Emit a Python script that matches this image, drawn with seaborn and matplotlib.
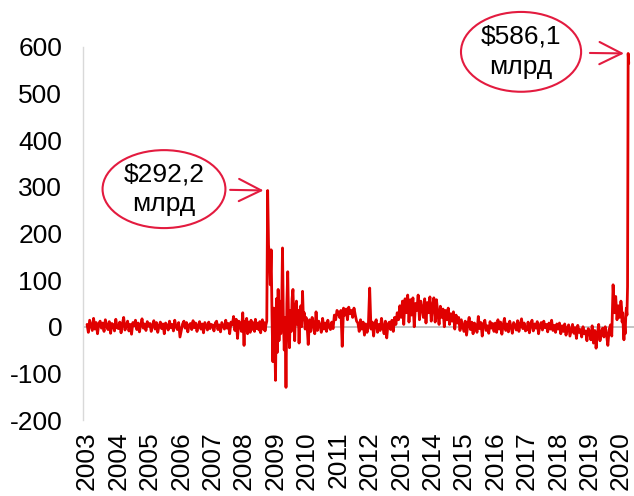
import pandas as pd
import matplotlib.pyplot as plt
from matplotlib.patches import Ellipse
import seaborn as sns

# Weekly change of the balance sheet, $ bn.
# Most years are sampled twice a month, 2008-2009 about every 10 days, 2020 weekly.
y2003 = [5, -12, 14, 3, -8, 18, -5, 9, -15, 6, 12, -3, 8, -10, 15, 2, -6, 11, -14, 7, 4, -9, 16, -2]
y2004 = [-4, 10, -13, 6, 20, -7, 3, 12, -9, 5, -16, 9, 2, 14, -6, 8, -11, 4, 17, -3, 6, -8, 11, 1]
y2005 = [7, -10, 4, 13, -5, 9, -12, 2, 10, -4, 6, -15, 8, 3, -7, 12, -2, 5, -9, 14, 0, -6, 9, -22]
y2006 = [-8, 6, 12, -3, 9, -11, 4, 7, -6, 13, -2, 8, -10, 3, 11, -5, 6, -13, 9, 2, -7, 10, -4, 5]
y2007 = [3, -9, 8, 12, -6, 4, -11, 9, 2, -5, 14, -3, 7, -15, 10, 4, 22, -8, 16, -25, 12, 6, -10, 30]
y2008 = [-40, 12, -8, 18, -15, 10, 5, -12, 14, -6, 9, 3, -10, 16, -4, 8, 2, -7, 11, -13,
         6, 15, -5, 9, -9, 4, 12, 292.2, 175, 150, 90, 165, 20, -75, 40, -20]
y2009 = [-115, 60, -55, 80, -30, 55, -15, 30, 169, 15, -50, 20, -130, 50, 118, 10, -45, 35,
         -10, 60, 80, 15, -30, 40, 55, 5, 35, -35, 25, 45, 0, 76, 15, 30, -5, 20]
y2010 = [10, -38, 15, -10, 20, 5, -15, 32, -8, 12, 3, -12, 18, -5, 8, -10, 14, 0, -6, 10, -4, 25, 15, 35]
y2011 = [30, 20, 35, -42, 40, 25, 38, 15, 42, 28, 35, 20, 40, 25, 12, 8, -10, 15, -5, 10, -18, 6, -12, 4]
y2012 = [83, -5, 10, -20, 8, 15, -12, 5, -8, 18, 0, -15, 12, -24, 6, 10, -6, 14, -10, 20, 5, 30, 15, 45]
y2013 = [20, 55, 5, 60, 30, 68, 10, 58, 25, 62, 0, 50, 35, 68, 15, 55, 40, 20, 60, 8, 52, 30, 64, 12]
y2014 = [45, 62, 10, 58, 30, 5, 44, 20, 38, 0, 35, 15, 40, 5, 28, 12, 32, -5, 25, 8, 20, -8, 15, 2]
y2015 = [-10, 12, -18, 5, 20, -6, 10, -15, 8, 3, -12, 22, -4, 9, -20, 6, 14, -8, 2, -14, 11, -3, 7, -10]
y2016 = [8, -12, 15, -5, 10, -16, 4, 18, -8, 6, -11, 12, 0, -14, 9, 3, -7, 13, -10, 5, 17, -4, 8, -9]
y2017 = [-6, 10, -13, 4, 14, -9, 6, -3, 11, -15, 2, 9, -7, 12, -2, 5, -11, 8, -5, 14, -8, 3, -12, 6]
y2018 = [-5, 8, -15, 2, -10, 6, -18, -3, 4, -20, -8, 5, -14, -2, -25, 3, -12, -6, -22, 0, -15, -9, -30, -4]
y2019 = [-10, -28, 2, -35, -8, -46, -15, 5, -30, -12, -3, -22, 0, -18, -40, -6, 4, -20, 90, 30, 65, 15, 45, 20]
y2020 = [55, 43, 10, 30, -5, -28, 5, -15, 20, 40, 25, 86, 586.1, 565]

years = list(range(2003, 2021))
series = [y2003, y2004, y2005, y2006, y2007, y2008, y2009, y2010, y2011,
          y2012, y2013, y2014, y2015, y2016, y2017, y2018, y2019, y2020]

labels = ["$292,2\nмлрд", "$586,1\nмлрд"]

frames = []
for year, vals in zip(years, series):
    if year == 2020:
        dates = pd.date_range("2020-01-01", periods=len(vals), freq="7D")
    else:
        dates = pd.date_range(f"{year}-01-01", f"{year + 1}-01-01", periods=len(vals) + 1)[:-1]
    frames.append(pd.DataFrame({"date": dates, "value": vals}))
df = pd.concat(frames, ignore_index=True)

sns.set_style("white")
plt.rcParams["font.family"] = ["Liberation Sans", "DejaVu Sans"]
plt.rcParams["axes.unicode_minus"] = False
plt.rcParams["text.color"] = "black"
plt.rcParams["xtick.labelcolor"] = "black"
plt.rcParams["ytick.labelcolor"] = "black"

red = "#e00000"
pink = "#e31b3f"
grey = "#d9d9d9"

fig = plt.figure(figsize=(6.34, 4.96), dpi=100)
ax = fig.add_axes([83 / 634, 1 - 420 / 496, 1 - 83 / 634, (420 - 47) / 496])

ax.axhline(0, color="#bfbfbf", lw=1.3, zorder=0)
sns.lineplot(data=df, x="date", y="value", ax=ax, color=red, linewidth=2.0)

ax.set_ylim(-200, 600)
ax.set_yticks(range(-200, 601, 100))
ax.set_xlim(pd.Timestamp("2002-11-15"), pd.Timestamp("2020-06-01"))
ax.set_xticks([pd.Timestamp(f"{y}-01-01") for y in years])
ax.set_xticklabels([str(y) for y in years], rotation=90)
ax.set_xlabel("")
ax.set_ylabel("")

ax.tick_params(axis="x", length=0, pad=8, labelsize=19, labelcolor="black")
ax.tick_params(axis="y", length=5, color=grey, width=1, pad=10, labelsize=19,
               direction="out", labelcolor="black")
for side in ["top", "right", "bottom"]:
    ax.spines[side].set_visible(False)
ax.spines["left"].set_color(grey)
ax.spines["left"].set_linewidth(1)

# peaks to annotate
crisis = df[df["date"].dt.year <= 2010]
peak1 = crisis.loc[crisis["value"].idxmax()]
peak2 = df.loc[df["value"].idxmax()]

# callouts: ellipse with text, arrow to the peak
callouts = [
    (peak1, (0.147, 0.619), 0.223, 0.209, (0.267, 0.617)),
    (peak2, (0.795, 0.987), 0.218, 0.214, (0.920, 0.984)),
]
for (peak, center, w, h, start), text in zip(callouts, labels):
    ax.add_patch(Ellipse(center, w, h, transform=ax.transAxes, fill=False,
                         ec=pink, lw=1.5, clip_on=False, zorder=5))
    ax.text(center[0], center[1], text, transform=ax.transAxes, ha="center", va="center",
            fontsize=19, linespacing=1.3, color="black", zorder=6)
    ax.annotate("", xy=(peak["date"], peak["value"]), xycoords="data",
                xytext=start, textcoords="axes fraction",
                arrowprops=dict(arrowstyle="->,head_length=0.8,head_width=0.4",
                                mutation_scale=20, color=pink, lw=1.5,
                                shrinkA=0, shrinkB=3),
                annotation_clip=False, zorder=6)

plt.savefig("out.png", dpi=100)
